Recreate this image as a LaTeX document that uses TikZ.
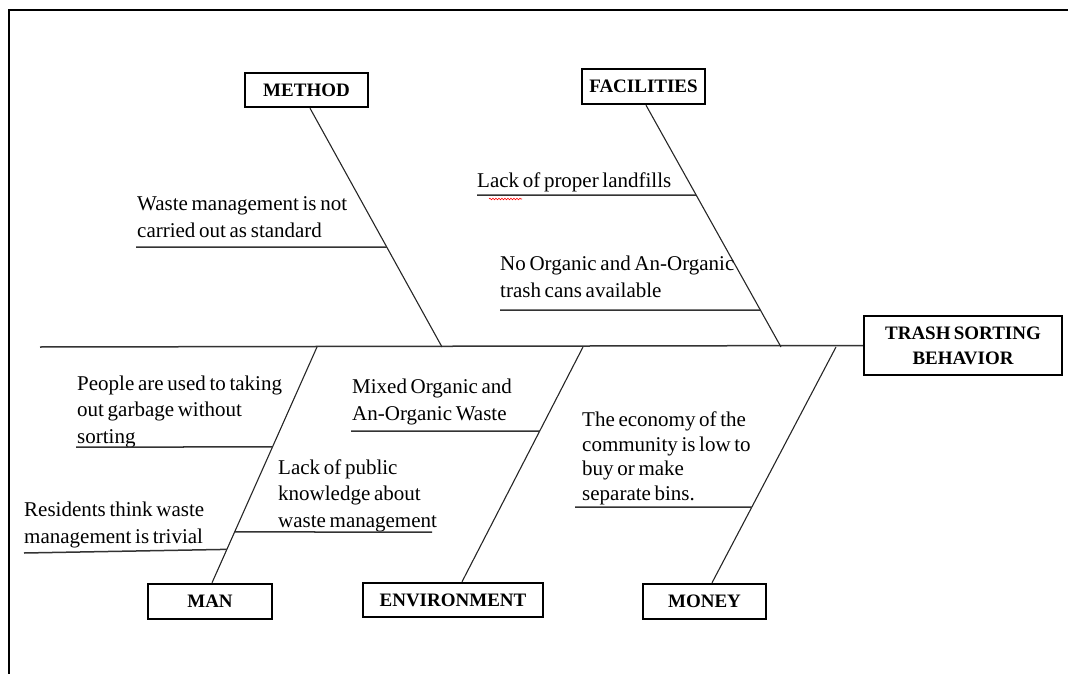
\documentclass[tikz,border=0pt]{standalone}
\usepackage{fontspec}
\setmainfont{Liberation Serif}[WordSpace=0.7]
\usetikzlibrary{decorations.pathmorphing}

\begin{document}
\begin{tikzpicture}[x=1pt,y=-1pt,
  cat node/.style={draw=black,line width=2.4pt,inner sep=0pt,align=center,font=\fontsize{19}{25}\selectfont\bfseries},
  cause/.style={anchor=base west,inner sep=0pt,align=left,font=\fontsize{21}{26.5}\selectfont},
  bone/.style={line width=1.1pt,black!85},
  uline/.style={line width=1.5pt,black!80}]
  \useasboundingbox (0,0) rectangle (1068,674);
  \draw[line width=2.6pt] (1068,10) -- (9,10) -- (9,674);

  % categories
  \node[cat node,minimum width=123,minimum height=34] (method) at (306.5,90) {METHOD};
  \node[cat node,minimum width=123,minimum height=35] (facilities) at (643.5,86.5) {FACILITIES};
  \node[cat node,minimum width=124,minimum height=35] (man) at (210,601.5) {MAN};
  \node[cat node,minimum width=180,minimum height=34] (env) at (453,600) {ENVIRONMENT};
  \node[cat node,minimum width=123,minimum height=35] (money) at (704.5,601.5) {MONEY};
  \node[cat node,minimum width=198,minimum height=59] (trash) at (963,345.5) {TRASH SORTING\\BEHAVIOR};

  % spine and bones
  \coordinate (tail) at (40,347);
  \coordinate (sm) at (442,347);
  \coordinate (sf) at (781,347);
  \coordinate (sn) at (317,347);
  \coordinate (se) at (583,347);
  \coordinate (sy) at (836,347);
  \coordinate (mt) at ([xshift=3.5pt]method.south);
  \coordinate (ft) at ([xshift=2.5pt]facilities.south);
  \coordinate (nt) at ([xshift=2pt]man.north);
  \coordinate (et) at ([xshift=9pt]env.north);
  \coordinate (yt) at ([xshift=7.5pt]money.north);
  \draw[line width=1.5pt,black!80] (tail) -- (trash.west);
  \draw[bone] (mt) -- (sm);
  \draw[bone] (ft) -- (sf);
  \draw[bone] (nt) -- (sn);
  \draw[bone] (et) -- (se);
  \draw[bone] (yt) -- (sy);

  % causes (anchored at the baseline of the last line)
  \node[cause] (tmethod) at (137,237) {Waste management is not\\carried out as standard};
  \node[cause] (tland) at (477,187) {Lack of proper landfills};
  \node[cause] (tcans) at (500,297) {No Organic and An-Organic\\trash cans available};
  \node[cause] (tpeople) at (77,443) {People are used to taking\\out garbage without\\sorting};
  \node[cause] (tresid) at (24,543) {Residents think waste\\management is trivial};
  \node[cause] (tpublic) at (278,527) {Lack of public\\knowledge about\\waste management};
  \node[cause] (tmixed) at (352,420) {Mixed Organic and\\An-Organic Waste};
  \node[cause,font=\fontsize{21}{24.5}\selectfont] (tecon) at (582,500) {The economy of the\\community is low to\\buy or make\\separate bins.};

  \coordinate (u1) at (136,247);
  \coordinate (u2) at (477,195);
  \coordinate (u3) at (500,310);
  \coordinate (u4) at (76,447);
  \coordinate (u5) at (24,553);
  \coordinate (u6) at (432,532);
  \coordinate (u7) at (351,431);
  \coordinate (u8) at (575,507);
  \draw[uline] (u1) -- (intersection of 136,247--900,247 and mt--sm);
  \draw[uline] (u2) -- (intersection of 477,195--900,195 and ft--sf);
  \draw[uline] (u3) -- (intersection of 500,310--900,310 and ft--sf);
  \draw[uline] (u4) -- (intersection of 76,447--600,447 and sn--nt);
  \draw[uline] (u5) -- (intersection of 24,553--300,548 and sn--nt);
  \draw[uline] (intersection of 200,532--500,532 and sn--nt) -- (u6);
  \draw[uline] (u7) -- (intersection of 351,431--800,431 and se--et);
  \draw[uline] (u8) -- (intersection of 575,507--900,507 and sy--yt);
  \draw[red,line width=0.6pt,decorate,decoration={snake,amplitude=0.8pt,segment length=3pt}] (489,199) -- (522,199);
\end{tikzpicture}
\end{document}
